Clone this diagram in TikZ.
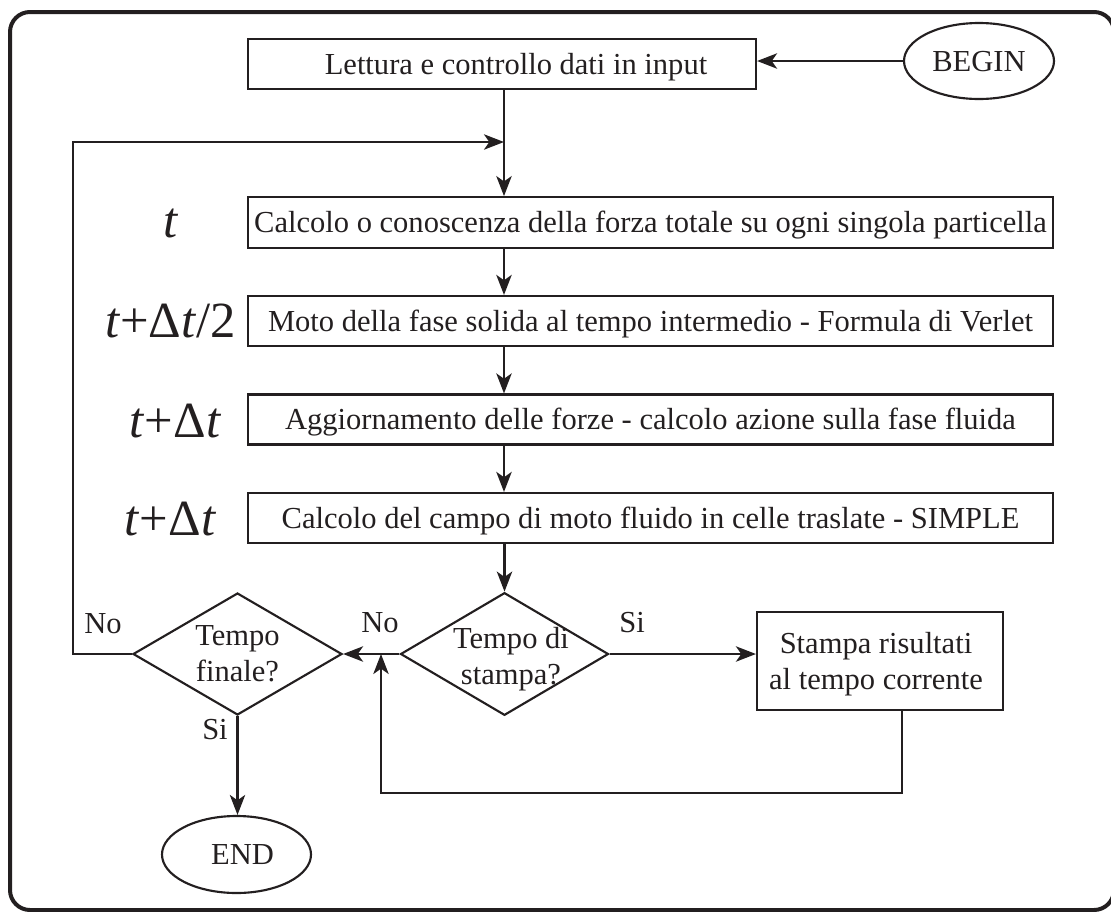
\documentclass[tikz,border=0pt]{standalone}
\usepackage{fontspec}
\setmainfont{Liberation Serif}
\usetikzlibrary{shapes.geometric,arrows.meta}
\definecolor{ink}{HTML}{231F20}
\begin{document}
\begin{tikzpicture}[x=0.75pt,y=-0.75pt,
  txt/.style={text=ink, font=\fontsize{22.9}{27}\selectfont},
  tlab/.style={text=ink, font=\fontsize{38}{40}\selectfont, anchor=base, inner sep=0pt},
  lab/.style={txt, anchor=base, inner sep=0pt},
  stepbox/.style={txt, draw=ink, line width=1.6pt, rectangle, inner sep=0pt,
     text height=15.2pt, text depth=0pt},
  twoline/.style={txt, draw=ink, line width=1.6pt, rectangle, inner sep=0pt, align=center},
  term/.style={txt, draw=ink, line width=1.6pt, ellipse, inner sep=0pt,
     text height=15.2pt, text depth=0pt},
  decision/.style={draw=ink, line width=1.6pt, diamond, inner sep=0pt},
  dtext/.style={txt, align=center, inner sep=0pt},
  arr/.style={draw=ink, line width=1.7pt, -{Stealth[length=15pt,width=11.5pt,inset=4pt]}},
  ln/.style={draw=ink, line width=1.7pt}
]
\useasboundingbox (0,0) rectangle (1111,911);
\draw[ink, line width=3pt, rounded corners=15pt] (10,12) rectangle (1114,910);

% process boxes
\node[stepbox, minimum width=381pt, minimum height=37.5pt] (b1) at (502,64)
  {\hspace*{21pt}Lettura e controllo dati in input};
\node[term, minimum width=112.5pt, minimum height=57pt] (bg) at (979,61) {BEGIN};
\node[stepbox, minimum width=603.75pt, minimum height=38pt] (b2) at (650.5,222.5)
  {Calcolo o conoscenza della forza totale su ogni singola particella};
\node[stepbox, minimum width=603.75pt, minimum height=37.5pt] (b3) at (650.5,321)
  {Moto della fase solida al tempo intermedio - Formula di Verlet};
\node[stepbox, minimum width=603.75pt, minimum height=37.5pt] (b4) at (650.5,419.5)
  {Aggiornamento delle forze - calcolo azione sulla fase fluida};
\node[stepbox, minimum width=603.75pt, minimum height=37.5pt] (b5) at (650.5,518)
  {Calcolo del campo di moto fluido in celle traslate - SIMPLE};

% time labels
\node[tlab] (t1) at (171,237) {\textit{t}};
\node[tlab] (t2) at (170.5,337) {\textit{t}+Δ\textit{t}/2};
\node[tlab] (t3) at (175.5,437) {\textit{t}+Δ\textit{t}};
\node[tlab] (t4) at (170.5,535) {\textit{t}+Δ\textit{t}};

% decisions
\node[decision, minimum width=156.75pt, minimum height=91.5pt] (d1) at (237.5,654) {};
\node[dtext] (d1t) at (237.5,654) {Tempo\\finale?};
\node[decision, minimum width=156pt, minimum height=92pt] (d2) at (504.5,654) {};
\node[dtext, yshift=-3.75pt] (d2t) at (511,654) {Tempo di\\stampa?};

\node[twoline, minimum width=184.5pt, minimum height=73.5pt] (st) at (880,661) {};
\node[dtext, yshift=-2.25pt] (stt) at (876,661) {Stampa risultati\\al tempo corrente};

\node[term, minimum width=111.75pt, minimum height=57.75pt] (end) at (236.5,854.5)
  {\hspace*{9pt}END};

% edge labels
\node[lab] (no1) at (103,633) {No};
\node[lab] (no2) at (380,632) {No};
\node[lab] (si1) at (632,632) {Si};
\node[lab] (si2) at (215,739) {Si};

% helper coordinates
\coordinate (j) at (504,142);
\coordinate (lp) at (73,142);
\coordinate (rb) at (902,793);
\coordinate (rl) at (381,793);

% connectors
\draw[arr] (bg.west) -- (bg.west -| b1.east);
\draw[arr] (b1.south -| j) -- (b2.north -| j);
\draw[arr] (d1.west) -| (lp) -- (j);
\draw[arr] (b2.south -| j) -- (b3.north -| j);
\draw[arr] (b3.south -| j) -- (b4.north -| j);
\draw[arr] (b4.south -| j) -- (b5.north -| j);
\draw[arr] (b5.south -| d2.north) -- (d2.north);
\draw[arr] (d2.west) -- (d1.east);
\draw[arr] (d2.east) -- (d2.east -| st.west);
\draw[arr] (st.south -| rb) -- (rb) -- (rl) -- (rl |- d2.west);
\draw[arr] (d1.south) -- (d1.south |- end.north);
\end{tikzpicture}
\end{document}
